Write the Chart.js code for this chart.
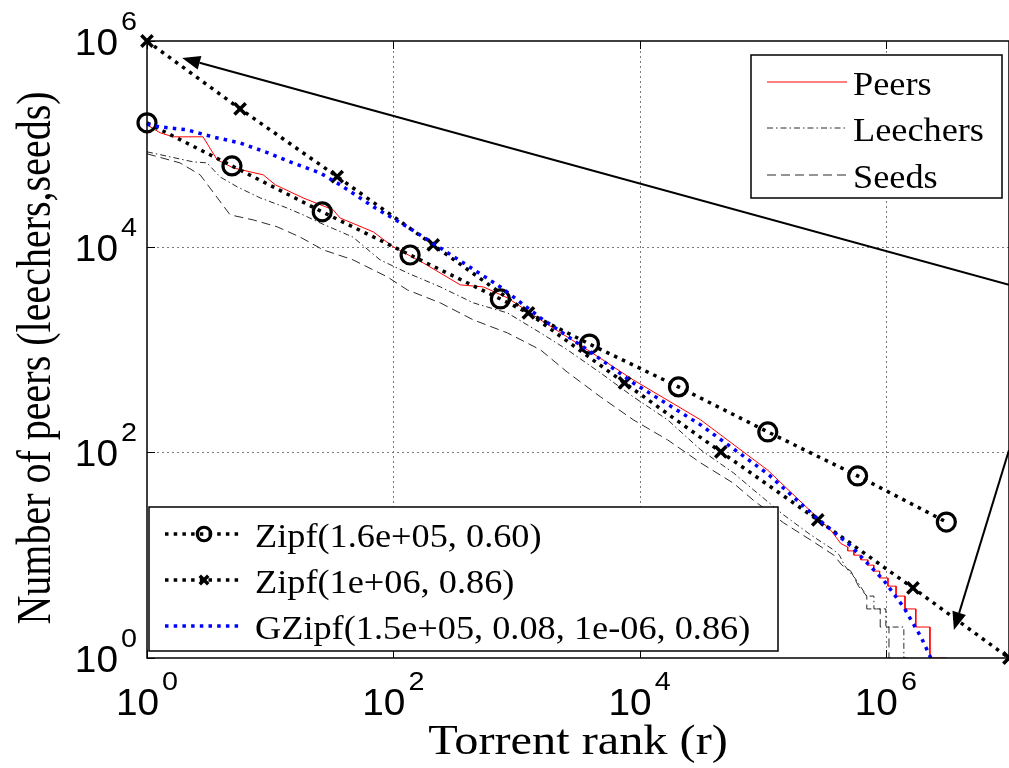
<!DOCTYPE html>
<html>
<head>
<meta charset="utf-8">
<script src="https://cdn.jsdelivr.net/npm/chart.js@4.4.0/dist/chart.umd.min.js"></script>
<style>
  html, body { margin: 0; padding: 0; background: #fff; }
  #wrap { width: 1009px; height: 768px; position: relative; }
</style>
</head>
<body>
<div id="wrap"><canvas id="rankChart"></canvas></div>
<script>
// axis ranges and labelled decades
const xMin = 1, xMax = 1e7;
const yMin = 1, yMax = 1e6;
const xTickValues = [1, 1e2, 1e4, 1e6];
const yTickValues = [1, 1e2, 1e4, 1e6];

// measured curves (rank -> number of peers)
const peersRank = [1, 1.28, 1.63, 2.85, 3.71, 5.0, 8.8, 11, 18.5, 32.5, 37, 69, 100, 175, 350, 540, 845, 1570, 3780, 8900, 31300, 110000, 280000, 357000, 430000, 490000, 490000, 550000, 550000, 626000, 626000, 714000, 714000, 798000, 798000, 890000, 890000, 1040000, 1040000, 1210000, 1210000, 1430000, 1430000, 1750000, 1750000, 2280000, 2280000, 3100000];
const peersCount = [153000, 128000, 117000, 117000, 70000, 58400, 49900, 40000, 29800, 22800, 19000, 13900, 9960, 6950, 4250, 4060, 3180, 1940, 991, 506, 207, 67, 23, 17.5, 13, 12, 11, 11, 10, 10, 9, 9, 8, 8, 7, 7, 6, 6, 5, 5, 4, 4, 3, 3, 2, 2, 1, 1];

const leechRank = [1, 2.37, 3.07, 3.92, 5.4, 8.3, 13.7, 18.5, 25.5, 47, 78, 130, 241, 447, 845, 1570, 2600, 4820, 8900, 16900, 31300, 58000, 84500, 148000, 246000, 378000, 420000, 460000, 500000, 560000, 620000, 700000, 800000, 800000, 1000000, 1000000, 1400000, 1400000, 1500000];
const leechCount = [83600, 66800, 65300, 47700, 38200, 29800, 23800, 20400, 17000, 12400, 7450, 5560, 4060, 2840, 2270, 1450, 991, 592, 346, 207, 106, 63, 43, 24.6, 15.7, 11.2, 10, 8, 7, 6, 5, 4, 4, 3, 3, 2, 2, 1, 1];

const seedRank = [1, 1.85, 2.7, 4.73, 7.3, 11.4, 17.5, 27, 47, 89, 130, 241, 447, 845, 1570, 2600, 4820, 8900, 16900, 31300, 58000, 84500, 148000, 246000, 378000, 440000, 519000, 600000, 700000, 700000, 900000, 900000, 1060000, 1060000, 1100000];
const seedCount = [80000, 65300, 50000, 20400, 18200, 15600, 12400, 9300, 7450, 5100, 3800, 2840, 1940, 1450, 991, 600, 346, 207, 132, 79, 50, 34, 20.6, 14, 10, 8, 7, 5, 4, 3, 3, 2, 2, 1, 1];

// fitted models
const zipfARank = [1, 4.9, 26.5, 137, 741, 3920, 20700, 110000, 590000, 3100000];
const zipfAVal = [160000, 61000, 21800, 8300, 3100, 1130, 433, 158, 59, 21];

const zipfBRank = [1, 5.7, 35, 211, 1250, 7550, 45700, 280000, 1660000, 10000000];
const zipfBVal = [1000000, 219000, 48000, 10400, 2270, 473, 101, 22, 4.8, 1];

const gzipfRank = [1, 1.28, 2.1, 3.4, 5.7, 9.5, 15.4, 25.5, 37, 69, 130, 255, 741, 1570, 3780, 8900, 31300, 110000, 280000, 520000, 960000, 1400000, 1930000, 2320000];
const gzipfVal = [155000, 146000, 137000, 117000, 102000, 82000, 65000, 52000, 40000, 24400, 15600, 9300, 4060, 2030, 991, 473, 185, 61.7, 22.5, 12.3, 5.7, 3.1, 1.6, 1];

// annotation arrows (data coords): tail -> head
const arrowTails = [[1e7, 4270], [1e7, 105]];
const arrowHeads = [[1.93, 684000], [3.57e6, 1.87]];

const SERIF = '"Liberation Serif", "Times New Roman", serif';
const SANS = '"Liberation Sans", Arial, sans-serif';

function pts(xs, ys) {
  return xs.map((x, i) => ({ x: x, y: ys[i] }));
}

function stretchedText(ctx, text, x, y, sx, align) {
  ctx.save();
  ctx.translate(x, y);
  ctx.scale(sx, 1);
  ctx.textAlign = align || 'left';
  ctx.fillText(text, 0, 0);
  ctx.restore();
}

function drawMarker(ctx, style, cx, cy, r, lw) {
  ctx.save();
  ctx.setLineDash([]);
  ctx.lineWidth = lw;
  ctx.strokeStyle = '#000';
  ctx.beginPath();
  if (style === 'circle') {
    ctx.arc(cx, cy, r, 0, Math.PI * 2);
  } else {
    const d = r * Math.SQRT1_2;
    ctx.moveTo(cx - d, cy - d); ctx.lineTo(cx + d, cy + d);
    ctx.moveTo(cx + d, cy - d); ctx.lineTo(cx - d, cy + d);
  }
  ctx.stroke();
  ctx.restore();
}

function drawLegend(ctx, chart, idxs, box, x0, x1, textX, rows) {
  ctx.save();
  ctx.fillStyle = '#fff';
  ctx.fillRect(box.x, box.y, box.w, box.h);
  ctx.strokeStyle = '#000';
  ctx.lineWidth = 1.5;
  ctx.strokeRect(box.x, box.y, box.w, box.h);
  idxs.forEach((di, k) => {
    const ds = chart.data.datasets[di];
    const cy = rows[k];
    ctx.save();
    ctx.strokeStyle = ds.borderColor;
    ctx.lineWidth = ds.borderWidth;
    ctx.setLineDash(ds.borderDash || []);
    ctx.beginPath();
    ctx.moveTo(x0, cy);
    ctx.lineTo(x1, cy);
    ctx.stroke();
    ctx.restore();
    if (ds.pointRadius > 0) {
      drawMarker(ctx, ds.pointStyle, (x0 + x1) / 2, cy, ds.pointRadius * 0.75, ds.pointBorderWidth);
    }
    ctx.fillStyle = '#000';
    ctx.font = '33px ' + SERIF;
    stretchedText(ctx, ds.label, textX, cy + 13, 1.1);
  });
  ctx.restore();
}

function drawArrow(ctx, x0, y0, x1, y1) {
  const ang = Math.atan2(y1 - y0, x1 - x0);
  const len = 18, half = 7;
  const bx = x1 - len * Math.cos(ang), by = y1 - len * Math.sin(ang);
  ctx.beginPath();
  ctx.moveTo(x0, y0);
  ctx.lineTo(bx, by);
  ctx.stroke();
  ctx.beginPath();
  ctx.moveTo(x1, y1);
  ctx.lineTo(bx + half * Math.sin(ang), by - half * Math.cos(ang));
  ctx.lineTo(bx - half * Math.sin(ang), by + half * Math.cos(ang));
  ctx.closePath();
  ctx.fill();
}

const decorations = {
  id: 'decorations',
  beforeDatasetsDraw(chart) {
    const { ctx, chartArea: a, scales: { x, y } } = chart;
    ctx.save();
    ctx.strokeStyle = '#7a7a7a';
    ctx.lineWidth = 1;
    ctx.setLineDash([2, 3]);
    xTickValues.forEach(v => {
      if (v <= xMin || v >= xMax) return;
      const px = Math.round(x.getPixelForValue(v)) + 0.5;
      ctx.beginPath(); ctx.moveTo(px, a.top); ctx.lineTo(px, a.bottom); ctx.stroke();
    });
    yTickValues.forEach(v => {
      if (v <= yMin || v >= yMax) return;
      const py = Math.round(y.getPixelForValue(v)) + 0.5;
      ctx.beginPath(); ctx.moveTo(a.left, py); ctx.lineTo(a.right, py); ctx.stroke();
    });
    ctx.restore();
  },
  afterDatasetsDraw(chart) {
    const { ctx, chartArea: a, scales: { x, y } } = chart;
    ctx.save();

    // axes frame and inward ticks
    ctx.strokeStyle = '#000';
    ctx.lineWidth = 1.5;
    ctx.strokeRect(a.left, a.top, a.right - a.left, a.bottom - a.top);
    ctx.lineWidth = 1;
    xTickValues.forEach(v => {
      const px = Math.round(x.getPixelForValue(v)) + 0.5;
      ctx.beginPath();
      ctx.moveTo(px, a.bottom); ctx.lineTo(px, a.bottom - 8);
      ctx.moveTo(px, a.top); ctx.lineTo(px, a.top + 8);
      ctx.stroke();
    });
    yTickValues.forEach(v => {
      const py = Math.round(y.getPixelForValue(v)) + 0.5;
      ctx.beginPath();
      ctx.moveTo(a.left, py); ctx.lineTo(a.left + 8, py);
      ctx.stroke();
    });

    // arrows
    ctx.strokeStyle = '#000';
    ctx.fillStyle = '#000';
    ctx.lineWidth = 2;
    arrowTails.forEach((t, i) => {
      const h = arrowHeads[i];
      drawArrow(ctx, x.getPixelForValue(t[0]), y.getPixelForValue(t[1]),
        x.getPixelForValue(h[0]), y.getPixelForValue(h[1]));
    });

    // legends
    drawLegend(ctx, chart, [0, 1, 2], { x: 751, y: 55, w: 251, h: 143 }, 767, 847, 853, [82, 128, 175]);
    drawLegend(ctx, chart, [3, 4, 5], { x: 149, y: 507, w: 629, h: 144 }, 165, 243, 255, [534, 580, 626]);

    // tick labels 10^n
    ctx.fillStyle = '#000';
    ctx.textBaseline = 'alphabetic';
    const big = '37px ' + SANS, small = '25px ' + SANS;
    const sxBig = 1.05, sxSmall = 1.15;
    xTickValues.forEach(v => {
      const e = String(Math.round(Math.log10(v)));
      const px = x.getPixelForValue(v);
      ctx.font = big; const wb = ctx.measureText('10').width * sxBig;
      ctx.font = small; const ws = ctx.measureText(e).width * sxSmall;
      const left = px - (wb + 3 + ws) / 2;
      ctx.font = big; stretchedText(ctx, '10', left, a.bottom + 57, sxBig);
      ctx.font = small; stretchedText(ctx, e, left + wb + 3, a.bottom + 32, sxSmall);
    });
    yTickValues.forEach(v => {
      const e = String(Math.round(Math.log10(v)));
      const py = y.getPixelForValue(v);
      ctx.font = small; const ws = ctx.measureText(e).width * sxSmall;
      const right = a.left - 10;
      stretchedText(ctx, e, right, py - 11, sxSmall, 'right');
      ctx.font = big; stretchedText(ctx, '10', right - ws - 3, py + 14, sxBig, 'right');
    });

    // axis titles
    ctx.font = '42px ' + SERIF;
    stretchedText(ctx, 'Torrent rank (r)', (a.left + a.right) / 2, 754, 1.15, 'center');
    ctx.save();
    ctx.font = '40px ' + SERIF;
    ctx.translate(50, 358);
    ctx.scale(1.2, 1);
    ctx.rotate(-Math.PI / 2);
    ctx.textAlign = 'center';
    ctx.fillText('Number of peers (leechers,seeds)', 0, 0);
    ctx.restore();

    ctx.restore();
  }
};

const dotted = [3.5, 5.2];

new Chart(document.getElementById('rankChart'), {
  type: 'line',
  data: {
    datasets: [
      { label: 'Peers', data: pts(peersRank, peersCount), borderColor: '#ff0000', borderWidth: 1,
        pointRadius: 0, order: 4 },
      { label: 'Leechers', data: pts(leechRank, leechCount), borderColor: '#2a2a2a', borderWidth: 1,
        borderDash: [6, 3, 1.5, 3], pointRadius: 0, order: 5 },
      { label: 'Seeds', data: pts(seedRank, seedCount), borderColor: '#2a2a2a', borderWidth: 1,
        borderDash: [9, 5], pointRadius: 0, order: 6 },
      { label: 'Zipf(1.6e+05, 0.60)', data: pts(zipfARank, zipfAVal), borderColor: '#000', borderWidth: 3.5,
        borderDash: dotted, borderCapStyle: 'butt', pointStyle: 'circle', pointRadius: 9, pointBorderWidth: 3.2,
        pointBorderColor: '#000', pointBackgroundColor: 'rgba(0,0,0,0)', clip: false, order: 3 },
      { label: 'Zipf(1e+06, 0.86)', data: pts(zipfBRank, zipfBVal), borderColor: '#000', borderWidth: 3.5,
        borderDash: dotted, borderCapStyle: 'butt', pointStyle: 'crossRot', pointRadius: 8, pointBorderWidth: 3.5,
        pointBorderColor: '#000', clip: false, order: 2 },
      { label: 'GZipf(1.5e+05, 0.08, 1e-06, 0.86)', data: pts(gzipfRank, gzipfVal), borderColor: '#0000ff',
        borderWidth: 3.5, borderDash: dotted, borderCapStyle: 'butt', pointRadius: 0, order: 1 }
    ]
  },
  options: {
    responsive: true,
    maintainAspectRatio: false,
    devicePixelRatio: 1,
    animation: false,
    elements: { line: { tension: 0 } },
    layout: { autoPadding: false, padding: { left: 147, right: 0, top: 41, bottom: 110 } },
    plugins: { legend: { display: false }, tooltip: { enabled: false } },
    scales: {
      x: { type: 'logarithmic', min: xMin, max: xMax, display: false },
      y: { type: 'logarithmic', min: yMin, max: yMax, display: false }
    }
  },
  plugins: [decorations]
});
</script>
</body>
</html>
